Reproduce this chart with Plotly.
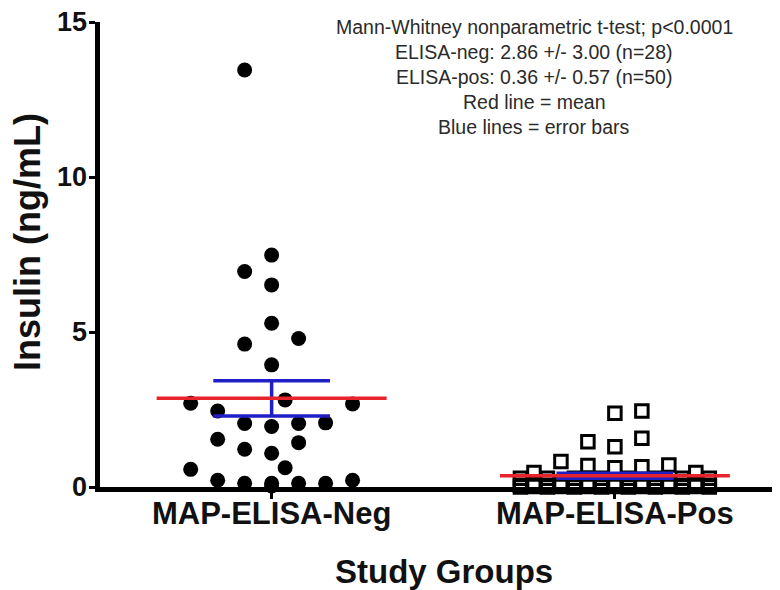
import math
import plotly.graph_objects as go

# ---------------- data ----------------
categories = ["MAP-ELISA-Neg", "MAP-ELISA-Pos"]

neg_values = [13.45, 7.48, 6.95, 6.52, 5.28, 4.61, 4.79, 3.94,
              2.70, 2.81, 2.68, 2.45, 2.05, 1.95, 2.05, 2.07,
              1.54, 1.22, 1.43, 1.09, 0.62, 0.57,
              0.22, 0.12, 0.12, 0.12, 0.12, 0.22, 0.03]
neg_slots = [-1, 0, -1, 0, 0, -1, 1, 0,
             -3, 0.5, 3, -2, -1, 0, 1, 2,
             -2, -1, 1, 0, 0.5, -3,
             -2, -1, 0, 1, 2, 3, 0]

pos_values = [2.38, 2.45, 1.46, 1.30, 1.57, 0.82, 0.69, 0.62, 0.65, 0.71, 0.47, 0.47,
              0.28, 0.28, 0.28, 0.28, 0.28, 0.28, 0.28, 0.28,
              0.12, 0.12, 0.12, 0.12, 0.12, 0.12, 0.12,
              0.06, 0.06, 0.06, 0.06, 0.06, 0.06, 0.06, 0.06,
              0.02, 0.02, 0.02, 0.02, 0.02, 0.02, 0.02,
              0.0, 0.0, 0.0, 0.0, 0.0, 0.0, 0.0, 0.0]
pos_slots = [0, 1, -1, 0, 1, -2, -1, 0, 1, 2, -3, 3,
             -3.5, -2.5, -1.5, -0.5, 0.5, 1.5, 2.5, 3.5,
             -3, -2, -1, 0, 1, 2, 3,
             -3.5, -2.5, -1.5, -0.5, 0.5, 1.5, 2.5, 3.5,
             -3, -2, -1, 0, 1, 2, 3,
             -3.5, -2.5, -1.5, -0.5, 0.5, 1.5, 2.5, 3.5]

group_means = [2.86, 0.36]
group_sds = [3.00, 0.57]
group_ns = [28, 50]

y_ticks = [0, 5, 10, 15]

stats_lines = [
    "Mann-Whitney nonparametric t-test; p<0.0001",
    "ELISA-neg: 2.86 +/- 3.00 (n=28)",
    "ELISA-pos: 0.36 +/- 0.57 (n=50)",
    "Red line = mean",
    "Blue lines = error bars",
]

# ---------------- layout geometry ----------------
FONT = "Liberation Sans, Arial, Helvetica, sans-serif"
PAGE_OFF = 8                       # default body margin of the html page
W_FIG, H_FIG = 780, 590
M_L, M_R, M_T, M_B = 92, 8, 14, 111
PW = W_FIG - M_L - M_R
PH = H_FIG - M_T - M_B


def px(xp):   # page pixel -> paper x
    return (xp - PAGE_OFF - M_L) / PW


def py(yp):   # page pixel -> paper y
    return (H_FIG - M_B - (yp - PAGE_OFF)) / PH


SLOT = 0.0786      # horizontal spacing between swarm columns (category units)
MEAN_HALF = 0.335  # half width of mean line
CAP_HALF = 0.17    # half width of error caps

fig = go.Figure()

fig.add_trace(go.Scatter(
    x=[0 + s * SLOT for s in neg_slots], y=neg_values,
    mode="markers", cliponaxis=False,
    marker=dict(symbol="circle", size=15, color="black"),
    showlegend=False))

fig.add_trace(go.Scatter(
    x=[1 + s * SLOT for s in pos_slots], y=pos_values,
    mode="markers", cliponaxis=False,
    marker=dict(symbol="square-open", size=12.5, color="black",
                line=dict(width=3, color="black")),
    showlegend=False))

for i, (m, sd, n) in enumerate(zip(group_means, group_sds, group_ns)):
    sem = sd / math.sqrt(n)
    # blue error bars (SEM)
    fig.add_trace(go.Scatter(
        x=[i - CAP_HALF, i + CAP_HALF, None, i, i, None, i - CAP_HALF, i + CAP_HALF],
        y=[m + sem, m + sem, None, m + sem, m - sem, None, m - sem, m - sem],
        mode="lines", cliponaxis=False,
        line=dict(color="#1f1fc8", width=3.5), showlegend=False, hoverinfo="skip"))
    # red mean line
    fig.add_trace(go.Scatter(
        x=[i - MEAN_HALF, i + MEAN_HALF], y=[m, m],
        mode="lines", cliponaxis=False,
        line=dict(color="#e8232b", width=3.5), showlegend=False, hoverinfo="skip"))

fig.update_layout(
    width=W_FIG, height=H_FIG,
    margin=dict(l=M_L, r=M_R, t=M_T, b=M_B, autoexpand=False),
    paper_bgcolor="white", plot_bgcolor="white",
    font=dict(family=FONT, color="black"),
)

fig.update_xaxes(
    range=[-0.500, 1.481], automargin=False,
    tickvals=[0, 1], ticktext=categories,
    ticks="outside", ticklen=7, tickwidth=3, tickcolor="black",
    ticklabelstandoff=-12,
    tickfont=dict(family=FONT, size=31, color="#111111", weight="bold"),
    showline=True, linewidth=5, linecolor="black",
    showgrid=False, zeroline=False,
)
fig.update_yaxes(
    range=[0, 15], automargin=False,
    tickvals=y_ticks, showticklabels=False,
    ticks="outside", ticklen=6, tickwidth=3, tickcolor="black",
    showline=True, linewidth=5, linecolor="black",
    showgrid=False, zeroline=False,
)

# y tick labels, placed on the y scale
for t in y_ticks:
    fig.add_annotation(
        text=str(t), xref="paper", yref="y", x=px(89), y=t,
        showarrow=False, xanchor="right", yanchor="middle",
        font=dict(family=FONT, size=27, color="#111111", weight="bold"))

# axis titles
fig.add_annotation(
    text="Insulin (ng/mL)", xref="paper", yref="paper",
    x=px(27), y=py(242), textangle=-90,
    showarrow=False, xanchor="center", yanchor="middle",
    font=dict(family=FONT, size=36, color="#111111", weight="bold"))
fig.add_annotation(
    text="Study Groups", xref="paper", yref="paper",
    x=px(444), y=py(571),
    showarrow=False, xanchor="center", yanchor="middle",
    font=dict(family=FONT, size=33, color="#111111", weight="bold"))

# stats text block
for k, line in enumerate(stats_lines):
    fig.add_annotation(
        text=line, xref="paper", yref="paper",
        x=px(534), y=py(27 + 25 * k),
        showarrow=False, xanchor="center", yanchor="middle",
        font=dict(family=FONT, size=19.5, color="#2a2a2a"))

fig.write_html("out.html")
